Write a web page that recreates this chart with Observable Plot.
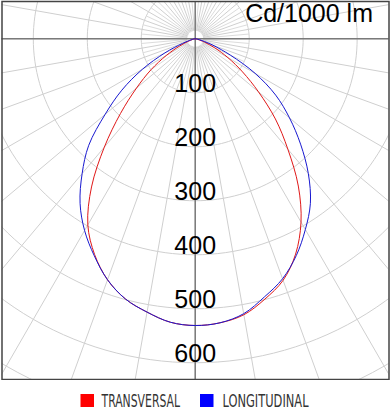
<!DOCTYPE html>
<html><head><meta charset="utf-8">
<script src="https://cdn.jsdelivr.net/npm/d3@7"></script>
<script src="https://cdn.jsdelivr.net/npm/@observablehq/plot@0.6"></script>
<style>
body{margin:0;background:#fff;}
#chart{width:390px;}
#chart svg{display:block;}
</style>
</head><body><div id="chart"></div>
<script>
// ---- data (cd per 1000 lm), gamma angle from nadir, left side (negative) and right side ----
const angles = [0,5,10,15,20,25,30,35,40,45,50,55,60,65,70,75,80,85,90];
const transversalLeft  = [531,527,514,499,475,441,398,335,262,196,142,100,62,32,14,5,2,0,0];
const transversalRight = [531,528,519,499,476,440,392,333,267,210,153,107,70,40,18,6,2,0,0];
const longitudinalLeft  = [531,527,514,499,475,443,410,372,326,279,218,166,113,62,25,8,3,1,0];
const longitudinalRight = [531,528,517,495,473,443,408,372,326,276,228,182,128,72,35,13,4,1,0];
const ringValues = [100,200,300,400,500,600];
const ringLabels = ["100","200","300","400","500","600"];
const seriesNames = ["TRANSVERSAL","LONGITUDINAL"];
const unitLabel = "Cd/1000 lm";

// ---- styles ----
const seriesColors = ["#ff0000","#0000ff"];
const curveColors = ["#e01818","#1818d0"];
const gridColor = "#cfcfcf";
const innerGridColor = "#dcdcdc";
const axisColor = "#7a7a7a";
const fontFamily = "'Liberation Sans', Arial, sans-serif";

const rad = d => d * Math.PI / 180;
function curve(name, left, right) {
  const pts = [];
  for (let i = angles.length - 1; i >= 0; i--) pts.push({series: name, g: -angles[i], r: left[i]});
  for (let i = 1; i < angles.length; i++) pts.push({series: name, g: angles[i], r: right[i]});
  return pts.map(p => ({...p, x: p.r * Math.sin(rad(p.g)), y: p.r * Math.cos(rad(p.g))}));
}
const curves = [
  curve(seriesNames[0], transversalLeft, transversalRight),
  curve(seriesNames[1], longitudinalLeft, longitudinalRight)
];

// grid geometry
const gridRings = d3.range(100, 900, 100);
const ringPts = gridRings.flatMap(v => d3.range(0, 361, 2).map(a => ({ring: v, x: v * Math.sin(rad(a)), y: v * Math.cos(rad(a))})));
const innerRays = d3.range(0, 360, 5).filter(a => a % 10 !== 0).map(a => ({a, r1: 15, r2: 100}));
const outerRays = d3.range(0, 360, 10).map(a => ({a, r1: 15, r2: 1200}));
const rayLink = (rays, color) => Plot.link(rays, {
  x1: d => d.r1 * Math.sin(rad(d.a)), y1: d => d.r1 * Math.cos(rad(d.a)),
  x2: d => d.r2 * Math.sin(rad(d.a)), y2: d => d.r2 * Math.cos(rad(d.a)),
  stroke: color, strokeWidth: 1, clip: "frame"
});

const labels = ringValues.map((v, i) => ({v, t: ringLabels[i]}));

const plot = Plot.plot({
  width: 390, height: 380,
  marginTop: 1, marginBottom: 1, marginLeft: 1.5, marginRight: 1.5,
  x: {domain: [-358, 359], axis: null},
  y: {domain: [-69, 631], reverse: true, axis: null},
  style: {fontFamily, background: "#fff"},
  marks: [
    Plot.line(ringPts, {x: "x", y: "y", z: "ring", stroke: gridColor, strokeWidth: 1, clip: "frame"}),
    rayLink(innerRays, innerGridColor),
    rayLink(outerRays, gridColor),
    Plot.ruleY([0], {stroke: axisColor, strokeWidth: 1.5}),
    Plot.ruleX([0], {stroke: axisColor, strokeWidth: 1.5}),
    Plot.line(curves[0], {x: "x", y: "y", stroke: curveColors[0], strokeWidth: 1, curve: "catmull-rom"}),
    Plot.line(curves[1], {x: "x", y: "y", stroke: curveColors[1], strokeWidth: 1, curve: "catmull-rom"}),
    Plot.text(labels, {x: 0, y: "v", text: "t", fontSize: 25, fill: "#000", textAnchor: "middle", lineAnchor: "bottom", dy: -1}),
    Plot.text([unitLabel], {frameAnchor: "top-right", text: d => d, fontSize: 25, fill: "#000", textAnchor: "end", lineAnchor: "top", dx: -16, dy: 3}),
    Plot.frame({stroke: "#444", strokeWidth: 1.5})
  ]
});
document.getElementById("chart").appendChild(plot);

// ---- legend below the plot ----
const legendX = [80.5, 200];
const legendTextX = [101.5, 222.5];
const legendTextLen = [78.5, 86];
const ns = "http://www.w3.org/2000/svg";
const lg = document.createElementNS(ns, "svg");
lg.setAttribute("width", 390); lg.setAttribute("height", 35);
seriesNames.forEach((name, i) => {
  const r = document.createElementNS(ns, "rect");
  r.setAttribute("x", legendX[i]); r.setAttribute("y", 14);
  r.setAttribute("width", 13.5); r.setAttribute("height", 13);
  r.setAttribute("fill", seriesColors[i]);
  lg.appendChild(r);
  const t = document.createElementNS(ns, "text");
  t.setAttribute("x", legendTextX[i]); t.setAttribute("y", 27);
  t.setAttribute("font-family", "'DejaVu Sans Condensed', 'DejaVu Sans', sans-serif");
  t.setAttribute("font-size", 18);
  t.setAttribute("fill", "#333");
  t.setAttribute("textLength", legendTextLen[i]);
  t.setAttribute("lengthAdjust", "spacingAndGlyphs");
  t.textContent = name;
  lg.appendChild(t);
});
document.getElementById("chart").appendChild(lg);
</script>
</body></html>
